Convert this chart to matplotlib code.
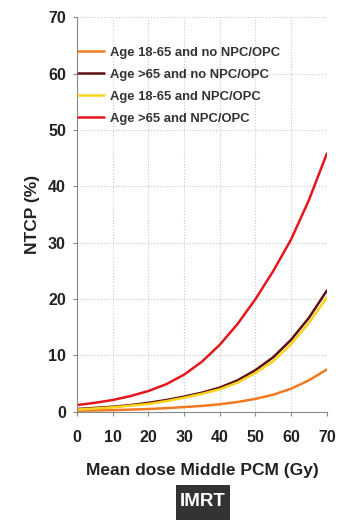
import numpy as np
import matplotlib
matplotlib.use("Agg")
import matplotlib.pyplot as plt
from matplotlib.patches import Rectangle

plt.rcParams['font.family'] = ['Liberation Sans', 'DejaVu Sans']

# mean dose (Gy) and NTCP (%)
dose = [0, 5, 10, 15, 20, 25, 30, 35, 40, 45, 50, 55, 60, 65, 70]
young_no_npc = [0.2, 0.25, 0.3, 0.4, 0.5, 0.65, 0.85, 1.05, 1.35, 1.75, 2.3, 3.05, 4.1, 5.6, 7.5]
old_no_npc = [0.5, 0.7, 0.9, 1.2, 1.6, 2.1, 2.7, 3.4, 4.3, 5.6, 7.4, 9.7, 12.8, 16.7, 21.5]
young_npc = [0.4, 0.6, 0.8, 1.1, 1.4, 1.9, 2.5, 3.2, 4.0, 5.2, 6.9, 9.0, 12.0, 15.8, 20.3]
old_npc = [1.2, 1.6, 2.1, 2.8, 3.7, 4.9, 6.6, 8.9, 11.9, 15.6, 20.0, 25.0, 30.6, 37.6, 45.8]

labels = [
    "Age 18-65 and no NPC/OPC",
    "Age >65 and no NPC/OPC",
    "Age 18-65 and NPC/OPC",
    "Age >65 and NPC/OPC",
]
colors = ["#F07A22", "#5E1010", "#F7D31E", "#E5161D"]

fig = plt.figure(figsize=(3.38, 5.2), dpi=100)
ax = fig.add_axes([0.228, 0.208, 0.739, 0.759])

series = [young_no_npc, old_no_npc, young_npc, old_npc]
for vals, lab, col in zip(series, labels, colors):
    ax.plot(dose, vals, color=col, lw=1.8, label=lab, solid_capstyle='round')

ax.set_xlim(0, 70)
ax.set_ylim(0, 70)
ax.set_xticks(np.arange(0, 71, 10))
ax.set_yticks(np.arange(0, 71, 10))
ax.grid(True, color="#c8c8c8", linestyle=":", lw=0.8)
for s in ["top", "right"]:
    ax.spines[s].set_visible(False)
for s in ["left", "bottom"]:
    ax.spines[s].set_color("#888888")
ax.tick_params(colors="#888888", length=3, labelcolor="#222222", labelsize=11.5)
for t in ax.get_xticklabels() + ax.get_yticklabels():
    t.set_fontweight("bold")
ax.tick_params(axis='x', pad=10)
ax.tick_params(axis='y', pad=5)

ax.set_xlabel("Mean dose Middle PCM (Gy)", fontsize=12.5, fontweight="bold",
              color="#222222", labelpad=13)
ax.set_ylabel("NTCP (%)", fontsize=12.5, fontweight="bold", color="#222222",
              labelpad=6)

leg = ax.legend(loc="upper left", bbox_to_anchor=(-0.045, 0.955), frameon=False,
                handlelength=2.0, handletextpad=0.5, labelspacing=0.76,
                prop={"size": 9.4, "weight": "bold"})
for t in leg.get_texts():
    t.set_color("#333333")

fig.add_artist(Rectangle((0.521, 0.0), 0.159, 0.067, transform=fig.transFigure,
                         fc="#333333", ec="none"))
fig.text(0.6, 0.035, "IMRT", ha="center", va="center", color="white",
         fontsize=13.5, fontweight="bold")

fig.savefig("out.png", dpi=100)
